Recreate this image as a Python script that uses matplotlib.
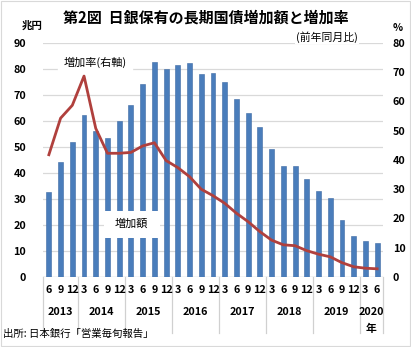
import numpy as np
import matplotlib
matplotlib.use("Agg")
import matplotlib.pyplot as plt
from matplotlib.patches import Rectangle

plt.rcParams['font.family'] = ['Noto Sans CJK JP', 'DejaVu Sans']

# 四半期末 (2013/6 - 2020/6)
months = [6, 9, 12] + [3, 6, 9, 12] * 6 + [3, 6]
years = ['2013', '2014', '2015', '2016', '2017', '2018', '2019', '2020']
year_counts = [3, 4, 4, 4, 4, 4, 4, 2]

# 増加額 (兆円, 左軸)
amount = [32.7, 44.4, 52.1, 62.4, 56.0, 53.5, 60.0, 66.0, 74.2, 82.7,
          80.0, 81.7, 82.2, 77.9, 78.3, 75.0, 68.5, 63.1, 57.6, 49.3,
          42.8, 42.8, 37.7, 33.0, 30.4, 22.0, 15.9, 13.9, 13.1]

# 増加率 (前年同月比 %, 右軸)
rate = [41.8, 54.3, 58.7, 68.7, 50.8, 42.3, 42.3, 42.6, 44.8, 45.9,
        39.8, 37.4, 34.3, 30.0, 27.8, 25.2, 21.8, 18.9, 15.5, 12.6,
        11.0, 10.7, 9.0, 7.8, 6.9, 4.9, 3.5, 3.0, 2.8]

W, H = 411, 347


def fx(px):
    return px / W


def fy(py):
    return 1 - py / H


fig = plt.figure(figsize=(W / 100, H / 100), dpi=100)
ax = fig.add_axes([fx(43), fy(277), fx(383) - fx(43), fy(43) - fy(277)])
ax2 = ax.twinx()

x = np.arange(len(amount))
ax.bar(x, amount, width=0.42, color='#4a7dbb', edgecolor='#3d6aa3', linewidth=0.4, zorder=3)
ax.set_xlim(-0.5, len(amount) - 0.5)
ax.set_ylim(0, 90)
ax.set_yticks(range(0, 91, 10))
ax.grid(axis='y', color='#d9d9d9', linewidth=0.9, zorder=0)
ax.set_axisbelow(True)
ax.tick_params(axis='y', length=0, pad=12, labelsize=7.8)
for t in ax.get_yticklabels():
    t.set_fontweight('bold')
ax.set_xticks([])
for s in ax.spines.values():
    s.set_visible(False)
ax.axhline(0, color='#d0d0d0', linewidth=0.9, zorder=2)

ax2.plot(x, rate, color='#b0403d', linewidth=2.0, zorder=4)
ax2.set_ylim(0, 80)
ax2.set_yticks(range(0, 81, 10))
ax2.tick_params(axis='y', length=0, pad=7, labelsize=7.8)
for t in ax2.get_yticklabels():
    t.set_fontweight('bold')
for s in ax2.spines.values():
    s.set_visible(False)

# 多段の横軸ラベル
trans = ax.get_xaxis_transform()
ah = 277 - 43
for i, m in enumerate(months):
    ax.text(i, -13 / ah, str(m), transform=trans, ha='center', va='center',
            fontsize=7.8, fontweight='bold')
start = 0
bounds = [0]
for yr, n in zip(years, year_counts):
    ax.text(start + (n - 1) / 2, -35 / ah, yr, transform=trans, ha='center',
            va='center', fontsize=7.8, fontweight='bold')
    start += n
    bounds.append(start)
ax.text(len(amount) - 1.5, -52 / ah, '年', transform=trans, ha='center',
        va='center', fontsize=7.8, fontweight='bold')
for b in bounds:
    ax.plot([b - 0.5, b - 0.5], [0, -56 / ah], transform=trans, color='#d0d0d0',
            linewidth=0.9, clip_on=False)

# 凡例代わりの注記
ax2.add_patch(Rectangle((fx(104), fy(238)), fx(160) - fx(104), fy(211) - fy(238),
                        transform=fig.transFigure, facecolor='white',
                        edgecolor='none', zorder=5, clip_on=False))
fig.text(fx(131), fy(224), '増加額', ha='center', va='center', fontsize=8, zorder=6)
fig.text(fx(95), fy(62), '増加率(右軸)', ha='center', va='center', fontsize=8,
         backgroundcolor='white')

fig.text(fx(206), fy(18), '第2図  日銀保有の長期国債増加額と増加率', ha='center',
         va='center', fontsize=10.8, fontweight='bold')
fig.text(fx(32), fy(26), '兆円', ha='center', va='center', fontsize=7.5,
         fontweight='bold')
fig.text(fx(398), fy(28), '%', ha='center', va='center', fontsize=7.5,
         fontweight='bold')
fig.text(fx(327), fy(37), '(前年同月比)', ha='center', va='center', fontsize=7.8,
         bbox=dict(facecolor='white', edgecolor='none', pad=1))
fig.text(fx(3), fy(334), '出所: 日本銀行「営業毎旬報告」', ha='left', va='center',
         fontsize=7.5)

fig.add_artist(Rectangle((0.002, 0.002), 0.995, 0.995, transform=fig.transFigure,
                         facecolor='none', edgecolor='#d9d9d9', linewidth=0.8))

fig.savefig('out.png', dpi=100)
